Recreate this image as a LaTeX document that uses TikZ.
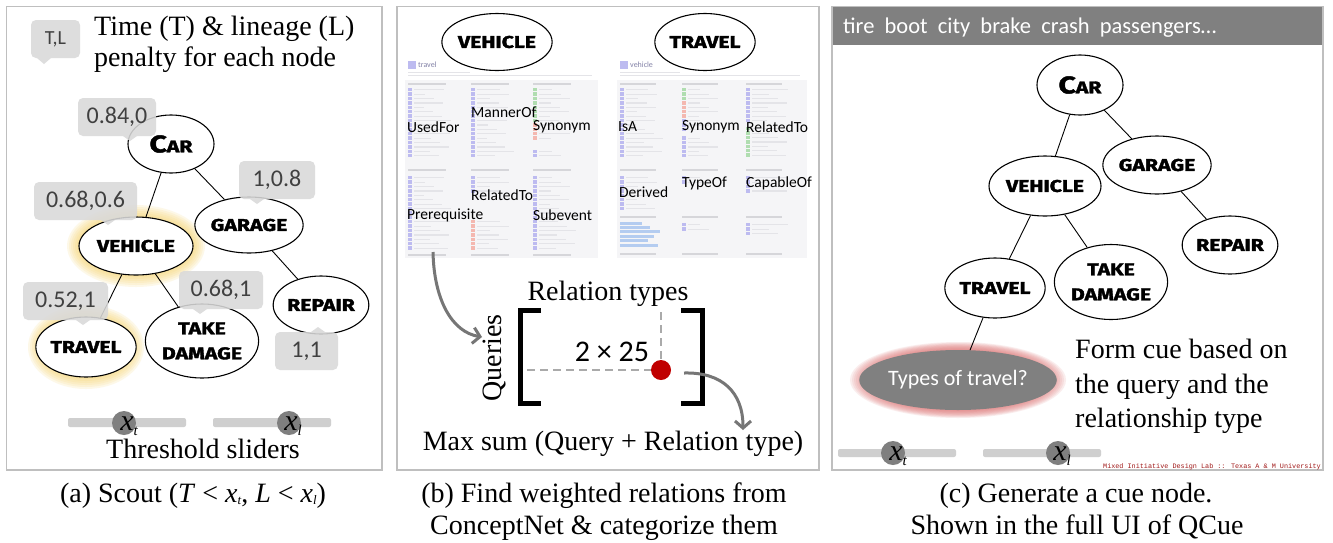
\documentclass[tikz,border=0pt]{standalone}
\usepackage{fontspec}
\setmainfont{Liberation Serif}
\newfontfamily\calfont{Carlito}
\newfontfamily\handfont{Fira Sans}[FakeStretch=1.25,FakeBold=2]
\newfontfamily\footmono{Liberation Mono}
\usetikzlibrary{shapes.geometric,arrows.meta,calc}
\definecolor{bubgray}{HTML}{D9D9D9}
\definecolor{bordergray}{HTML}{BFBFBF}
\definecolor{knobgray}{HTML}{7F7F7F}
\definecolor{bargray}{HTML}{CFCFCF}
\definecolor{glowY}{HTML}{F7D36A}
\definecolor{glowR}{HTML}{E07878}
\definecolor{hdrgray}{HTML}{808080}
\definecolor{dotred}{HTML}{C00000}
\definecolor{arrgray}{HTML}{767676}
\definecolor{footred}{HTML}{A01818}
\definecolor{sspurple}{HTML}{BDBBF0}
\definecolor{ssgreen}{HTML}{B0DDB0}
\definecolor{ssred}{HTML}{F4B8B0}
\definecolor{ssline}{HTML}{E4E4E8}
\definecolor{sshead}{HTML}{D6D6DA}
\definecolor{sspanel}{HTML}{F5F5F7}
\definecolor{ssblue}{HTML}{B4CCF0}
\definecolor{dashgray}{HTML}{AAAAAA}
\newcommand{\hw}{\handfont\bfseries\fontsize{17}{25}\selectfont}
\newcommand{\carlabel}{{\fontsize{24}{24}\selectfont C}{\fontsize{17}{17}\selectfont AR}}
\newcommand{\knoblab}[1]{\fontsize{30}{30}\selectfont\itshape x\raisebox{-5pt}{\fontsize{15}{15}\selectfont #1}}
\newcommand{\subx}[1]{\raisebox{-2.5pt}{\fontsize{13}{13}\selectfont\itshape #1}}
\newcommand{\sscol}[4]{%
  \foreach \k in {0,...,#3}{%
    \pgfmathsetmacro{\sslen}{10+mod(\k*37+#1*3,28)}%
    \fill[#4] (#1,{#2+\k*4.4}) rectangle ++(3.6,3.4);%
    \draw[ssline, line width=1.2pt] ({#1+6},{#2+\k*4.4+1.7}) -- ++(\sslen,0);%
  }}
\begin{document}
\begin{tikzpicture}[x=1pt,y=-1pt,
  concept/.style={ellipse, draw=black, line width=1.1pt, fill=white, inner sep=0pt, font=\hw, align=center},
  bubble/.style={fill=bubgray, fill opacity=0.88, text opacity=1, rounded corners=5pt, inner sep=0pt, text=black!75, font=\calfont\fontsize{24}{24}\selectfont},
  tail/.style={fill=bubgray, fill opacity=0.88},
  panel/.style={draw=bordergray, line width=1.2pt},
  bigtext/.style={font=\fontsize{28}{31}\selectfont, inner sep=0pt},
  knob/.style={circle, fill=knobgray, minimum size=24pt, inner sep=0pt},
  bar/.style={fill=bargray, rounded corners=2pt},
  edge/.style={line width=0.9pt},
  sarrow/.style={draw=arrgray, line width=3pt, -{Straight Barb[length=7pt,width=16pt]}},
  dashline/.style={draw=dashgray, line width=1.5pt, dash pattern=on 8pt off 5pt},
  sslabel/.style={anchor=west, inner sep=0pt, font=\calfont\fontsize{15.5}{15.5}\selectfont},
  caption/.style={anchor=base, inner sep=0pt, font=\fontsize{28}{32}\selectfont}]
\useasboundingbox (0,0) rectangle (1333,542);
\fill[white] (0,0) rectangle (1333,542);

% ================= Panel (a) =================
\draw[panel] (6.5,6.5) rectangle (382,470);
\foreach \g in {12,10,...,2} {
  \fill[glowY, opacity=0.15] (136,246) ellipse ({(57+\g)*1pt} and {(29+\g)*1pt});
  \fill[glowY, opacity=0.15] (86,347) ellipse ({(46+\g)*1pt} and {(30+\g)*1pt});
}
\node[concept, minimum width=86pt, minimum height=58pt] (aCar) at (171,144) {\carlabel};
\node[concept, minimum width=105pt, minimum height=56pt] (aGar) at (249,225) {GARAGE};
\node[concept, minimum width=114pt, minimum height=58pt] (aVeh) at (136,246) {VEHICLE};
\node[concept, minimum width=93pt, minimum height=60pt] (aTra) at (86,347) {TRAVEL};
\node[concept, minimum width=112pt, minimum height=74pt] (aTak) at (202,341) {TAKE\\DAMAGE};
\node[concept, minimum width=92pt, minimum height=58pt] (aRep) at (321,305) {REPAIR};
\draw[edge] (aCar) -- (aVeh);
\draw[edge] (aCar) -- (aGar);
\draw[edge] (aGar) -- (aRep);
\draw[edge] (aVeh) -- (aTra);
\draw[edge] (aVeh) -- (aTak);

\node[bubble, minimum width=49pt, minimum height=38pt, font=\calfont\fontsize{20}{20}\selectfont] (bTL) at (55.5,39) {T,L};
\fill[tail] (37,58) -- (44,64) -- (51,58) -- cycle;
\node[bubble, minimum width=78pt, minimum height=38pt] (bCar) at (117,117) {0.84,0};
\fill[tail] (123,136) -- (130,141) -- (137,136) -- cycle;
\node[bubble, minimum width=76pt, minimum height=38pt] (bGar) at (277,180) {1,0.8};
\fill[tail] (250,199) -- (257,204) -- (264,199) -- cycle;
\node[bubble, minimum width=103pt, minimum height=38pt] (bVeh) at (85.5,201) {0.68,0.6};
\fill[tail] (101,220) -- (108,225) -- (115,220) -- cycle;
\node[bubble, minimum width=85pt, minimum height=38pt] (bTra) at (65.5,301) {0.52,1};
\fill[tail] (76,320) -- (83,325) -- (90,320) -- cycle;
\node[bubble, minimum width=84pt, minimum height=38pt] (bTak) at (221,290) {0.68,1};
\fill[tail] (193,309) -- (200,314) -- (207,309) -- cycle;
\node[bubble, minimum width=63pt, minimum height=38pt] (bRep) at (306.5,351) {1,1};
\fill[tail] (311,332) -- (318,327) -- (325,332) -- cycle;

\node[bigtext, anchor=base west] (aT1) at (94,35) {Time (T) \& lineage (L)};
\node[bigtext, anchor=base west] (aT2) at (94,66) {penalty for each node};

\fill[bar] (68,418) rectangle (186,427);
\node[knob] (aK1) at (124,423) {};
\node[anchor=base, inner sep=0pt] (aK1l) at ($(aK1)+(5,7)$) {\knoblab{t}};
\fill[bar] (213,418) rectangle (331,427);
\node[knob] (aK2) at (289,423) {};
\node[anchor=base, inner sep=0pt] (aK2l) at ($(aK2)+(4,7)$) {\knoblab{l}};
\node[bigtext, anchor=base] (aThr) at (203,458) {Threshold sliders};

% ================= Panel (b) =================
\draw[panel] (397,6.5) rectangle (819,470);
% screenshot 1 (travel)
\fill[sspurple] (408,61) rectangle (416,69);
\node[anchor=west, inner sep=0pt, font=\calfont\fontsize{8}{8}\selectfont, text=sspurple!70!black] (ss1h) at (418,65) {travel};
\draw[ssline, line width=1pt] (408,72) -- (470,72);
\draw[ssline, line width=1pt] (408,75) -- (592,75);
\fill[sspanel] (405,80) rectangle (598,258);
\foreach \cx in {408,471,533} {
  \draw[sshead, line width=1.5pt] (\cx,84) -- ++(38,0);
  \draw[sshead, line width=1.5pt] (\cx,170) -- ++(38,0);
  \draw[sshead, line width=1.5pt] (\cx,255) -- ++(38,0);
}
\sscol{408}{88}{15}{sspurple}
\sscol{471}{88}{15}{sspurple}
\sscol{533}{88}{7}{ssgreen}
\sscol{533}{123.2}{3}{ssred}
\sscol{533}{149.6}{1}{sspurple}
\sscol{408}{176}{16}{sspurple}
\sscol{471}{176}{3}{sspurple}
\sscol{471}{220}{6}{ssred}
\sscol{533}{176}{16}{sspurple}
% screenshot 2 (vehicle)
\fill[sspurple] (620,61) rectangle (628,69);
\node[anchor=west, inner sep=0pt, font=\calfont\fontsize{8}{8}\selectfont, text=sspurple!70!black] (ss2h) at (630,65) {vehicle};
\draw[ssline, line width=1pt] (620,72) -- (680,72);
\draw[ssline, line width=1pt] (620,75) -- (800,75);
\fill[sspanel] (617,80) rectangle (807,258);
\foreach \cx in {620,682,746} {
  \draw[sshead, line width=1.5pt] (\cx,84) -- ++(36,0);
  \draw[sshead, line width=1.5pt] (\cx,170) -- ++(36,0);
  \draw[sshead, line width=1.5pt] (\cx,217) -- ++(36,0);
  \draw[sshead, line width=1.5pt] (\cx,254) -- ++(36,0);
}
\sscol{620}{88}{15}{sspurple}
\sscol{682}{88}{2}{ssgreen}
\sscol{682}{101.2}{3}{ssred}
\sscol{682}{118.8}{2}{sspurple}
\sscol{682}{136.4}{4}{sspurple}
\sscol{746}{88}{7}{sspurple}
\sscol{746}{127}{6}{ssgreen}
\sscol{620}{176}{7}{sspurple}
\sscol{682}{176}{1}{sspurple}
\sscol{746}{176}{3}{sspurple}
\foreach \k/\l in {0/22,1/30,2/40,3/34,4/28,5/38} {
  \draw[ssblue, line width=3pt] (620,{223+\k*4.4}) -- ++(\l,0);
}
\sscol{682}{223}{1}{sspurple}
\sscol{746}{223}{2}{sspurple}

\node[concept, minimum width=110pt, minimum height=57pt] (bVehN) at (497,42) {VEHICLE};
\node[concept, minimum width=94pt, minimum height=57pt] (bTraN) at (705,42) {TRAVEL};

\node[sslabel] (lUsed) at (407,127) {UsedFor};
\node[sslabel] (lMann) at (471,112) {MannerOf};
\node[sslabel] (lSyn1) at (533,127) {Synonym};
\node[sslabel] (lPre) at (407,215) {Prerequisite};
\node[sslabel] (lRel1) at (471,195) {RelatedTo};
\node[sslabel] (lSub) at (533,215) {Subevent};
\node[sslabel] (lIsA) at (618,127) {IsA};
\node[sslabel] (lSyn2) at (682,127) {Synonym};
\node[sslabel] (lRel2) at (746,127) {RelatedTo};
\node[sslabel] (lDer) at (619,192) {Derived};
\node[sslabel] (lType) at (682,183) {TypeOf};
\node[sslabel] (lCap) at (746,183) {CapableOf};

\coordinate (arrS) at (433,252);
\coordinate (arrE) at (482,337);
\draw[sarrow] (arrS) .. controls (434,300) and (452,332) .. (arrE);

\node[bigtext, anchor=base] (rLbl) at (608,300) {Relation types};
\node[bigtext, rotate=90] (qLbl) at (494,358) {Queries};
\draw[line width=5pt] (541,310) -- (520,310) -- (520,403) -- (541,403);
\draw[line width=5pt] (681,310) -- (702,310) -- (702,403) -- (681,403);
\node[circle, fill=dotred, minimum size=20pt, inner sep=0pt] (dot) at (661,370) {};
\coordinate (hS) at (527,370);
\coordinate (vS) at (661,312);
\draw[dashline] (hS) -- (dot);
\draw[dashline] (vS) -- (dot);
\node[inner sep=0pt, font=\calfont\fontsize{30}{30}\selectfont] (mat) at (612,352) {2 × 25};
\coordinate (a2S) at (684,373);
\coordinate (a2E) at (743,430);
\draw[sarrow] (a2S) .. controls (722,372) and (743,392) .. (a2E);
\node[bigtext, anchor=base] (mLbl) at (613,450) {Max sum (Query + Relation type)};

% ================= Panel (c) =================
\fill[hdrgray] (832,6.5) rectangle (1323,45);
\draw[panel] (832,6.5) rectangle (1323,470);
\node[anchor=base west, inner sep=0pt, text=white, font=\calfont\fontsize{22.5}{22.5}\selectfont] (hdr) at (843,33) {tire\ \ boot\ \ city\ \ brake\ \ crash\ \ passengers…};

\foreach \g in {20,18,...,2} {
  \fill[glowR, opacity=0.13] (958,380) ellipse ({(88+\g)*1pt} and {(30+0.4*\g)*1pt});
}
\node[concept, minimum width=86pt, minimum height=60pt] (cCar) at (1080,85) {\carlabel};
\node[concept, minimum width=112pt, minimum height=60pt] (cVeh) at (1045,186) {VEHICLE};
\node[concept, minimum width=104pt, minimum height=58pt] (cGar) at (1157,165) {GARAGE};
\node[concept, minimum width=94pt, minimum height=58pt] (cRep) at (1230,245) {REPAIR};
\node[concept, minimum width=92pt, minimum height=60pt] (cTra) at (995,288) {TRAVEL};
\node[concept, minimum width=112pt, minimum height=75pt] (cTak) at (1111,282) {TAKE\\DAMAGE};
\node[ellipse, fill=hdrgray, minimum width=176pt, minimum height=60pt, inner sep=0pt, text=white, font=\calfont\fontsize{22}{22}\selectfont] (cue) at (958,380) {Types of travel?};
\draw[edge] (cCar) -- (cVeh);
\draw[edge] (cCar) -- (cGar);
\draw[edge] (cGar) -- (cRep);
\draw[edge] (cVeh) -- (cTra);
\draw[edge] (cVeh) -- (cTak);
\draw[edge] (cTra) -- (cue);

\node[bigtext, anchor=base west] (f1) at (1075,358) {Form cue based on};
\node[bigtext, anchor=base west] (f2) at (1075,393) {the query and the};
\node[bigtext, anchor=base west] (f3) at (1075,427) {relationship type};

\fill[bar] (838,449) rectangle (956,457);
\node[knob] (cK1) at (893,453) {};
\node[anchor=base, inner sep=0pt] (cK1l) at ($(cK1)+(5,7)$) {\knoblab{t}};
\fill[bar] (983,449) rectangle (1101,457);
\node[knob] (cK2) at (1058,453) {};
\node[anchor=base, inner sep=0pt] (cK2l) at ($(cK2)+(4,7)$) {\knoblab{l}};
\node[anchor=base east, inner sep=0pt, text=footred, font=\footmono\fontsize{6.8}{7}\selectfont] (foot) at (1321,468) {Mixed Initiative Design Lab :: Texas A \& M University};

% ================= Captions =================
\node[caption] (capA) at (193,502) {(a) Scout (\textit{T} < \textit{x}\subx{t}, \textit{L} < \textit{x}\subx{l})};
\node[caption] (capB1) at (604,502) {(b) Find weighted relations from};
\node[caption] (capB2) at (604,534) {ConceptNet \& categorize them};
\node[caption] (capC1) at (1076,502) {(c) Generate a cue node.};
\node[caption] (capC2) at (1077,534) {Shown in the full UI of QCue};
\end{tikzpicture}
\end{document}
